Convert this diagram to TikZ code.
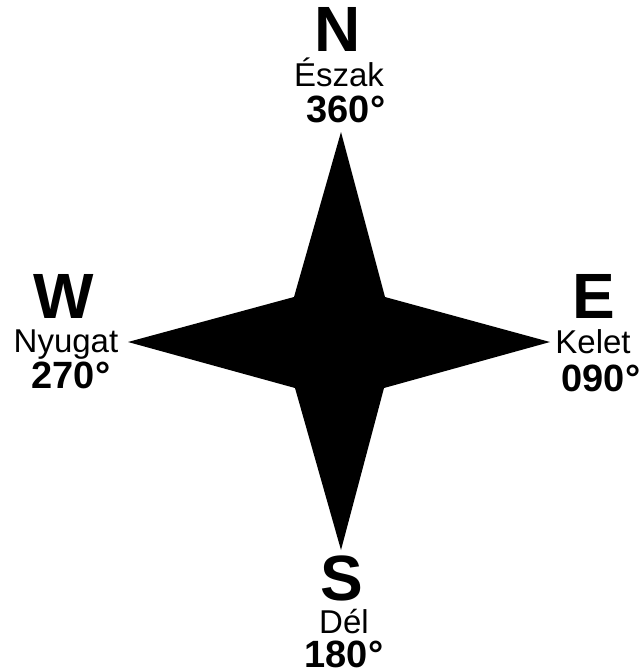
\documentclass[tikz,border=0pt]{standalone}
\usepackage{fontspec}
\setmainfont{Liberation Sans}
\usetikzlibrary{positioning}
\tikzset{
  dirletter/.style={font=\fontsize{64}{64}\selectfont\bfseries,inner sep=0pt,anchor=base},
  dirname/.style={font=\fontsize{33}{33}\selectfont,inner sep=0pt,anchor=base},
  dirdeg/.style={font=\fontsize{38}{38}\selectfont\bfseries,inner sep=0pt,anchor=base},
}

\begin{document}
\begin{tikzpicture}[x=1pt,y=-1pt]
        \useasboundingbox (0,0) rectangle (640,672);
        % star points
        \coordinate (tipN) at (341,132);
        \coordinate (tipE) at (550,342);
        \coordinate (tipS) at (341,550);
        \coordinate (tipW) at (128,342);
        \coordinate (ne) at (385,297);
        \coordinate (se) at (384,388);
        \coordinate (sw) at (295,388);
        \coordinate (nw) at (294,297);
        \fill[black] (tipN) -- (ne) -- (tipE) -- (se) -- (tipS) -- (sw) -- (tipW) -- (nw) -- cycle;
        % labels
        \foreach \d/\xa/\ya/\xb/\yb/\xc/\yc/\n/\g in
          {N/338/51/339/86/346/122/Észak/360°,
           E/594/318/593/353/601/391/Kelet/090°,
           S/342/600/344/633/344/667/Dél/180°,
           W/64/318/66/352/71/388/Nyugat/270°}
          {
          \node[dirletter] (\d-letter) at (\xa,\ya) {\d};
          \node[dirname] (\d-name) at (\xb,\yb) {\n};
          \node[dirdeg] (\d-deg) at (\xc,\yc) {\g};
          }
      \end{tikzpicture}
\end{document}
